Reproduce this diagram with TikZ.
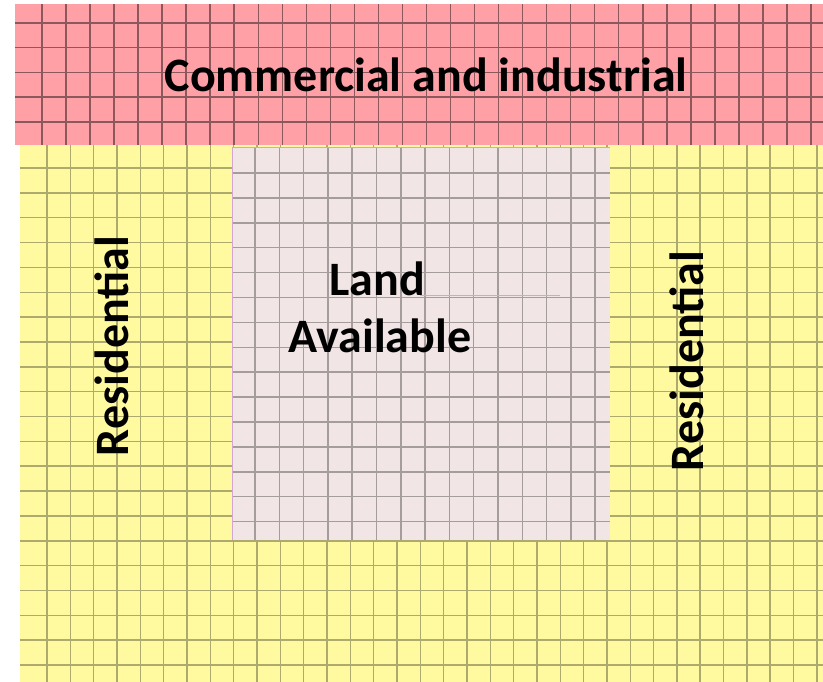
\documentclass[tikz,border=0pt]{standalone}
\usepackage{fontspec}
\setmainfont{Carlito}
\usetikzlibrary{positioning}
\definecolor{commercialred}{RGB}{255,160,166}
\definecolor{residentyellow}{RGB}{255,250,160}
\definecolor{landpink}{RGB}{242,229,229}
\tikzset{
    x=1pt, y=-1pt, % picture is laid out in pixel units, y runs down
    commercial grid/.style={draw=black!45!commercialred, line width=1.5pt}, % lines on the red band
    resident grid/.style={draw=black!32!residentyellow, line width=1.5pt}, % lines on the yellow part
    land grid/.style={draw=black!32!landpink, line width=1.5pt}, % lines on the free land
    zone text/.style={font=\bfseries\fontsize{48}{52}\selectfont, text=black, inner sep=0pt},
}
\begin{document}
\begin{tikzpicture}
    \useasboundingbox (0,0) rectangle (823,682);
    % commercial band
    \fill[commercialred] (15,4) rectangle (823,145);
    \foreach \i in {0,...,32}
        \draw[commercial grid] ({42+24.03*\i},4) -- ({42+24.03*\i},145);
    \foreach \j in {0,...,4}
        \draw[commercial grid] (15,{23+24.75*\j}) -- (823,{23+24.75*\j});
    % residential area
    \fill[residentyellow] (20,145) rectangle (823,682);
    \foreach \i in {0,...,33}
        \draw[resident grid] ({47+23.33*\i},145) -- ({47+23.33*\i},682);
    \foreach \j in {0,...,20}
        \draw[resident grid] (20,{168+24.85*\j}) -- (823,{168+24.85*\j});
    % available land
    \fill[landpink] (232,147) rectangle (610,540);
    \foreach \i in {0,...,14}
        \draw[land grid] ({255+24.3*\i},147) -- ({255+24.3*\i},540);
    \foreach \j in {0,...,14}
        \draw[land grid] (232,{173+24.9*\j}) -- (610,{173+24.9*\j});
    \draw[violet!35, line width=0.8pt] (232,540) -- (232,147) -- (610,147);
    \draw[violet!35, line width=0.8pt] (420,295) -- (560,295);

    \node[zone text, anchor=base] (comm) at (426,92) {Commercial and industrial};
    \node[zone text, anchor=base] (land) at (377,295) {Land};
    \node[zone text, anchor=base] (avail) at (380,352) {Available};
    \node[zone text, anchor=base, rotate=90] (resleft) at (128,346) {Residential};
    \node[zone text, anchor=base, rotate=90] (resright) at (703,361) {Residential};
\end{tikzpicture}
\end{document}
